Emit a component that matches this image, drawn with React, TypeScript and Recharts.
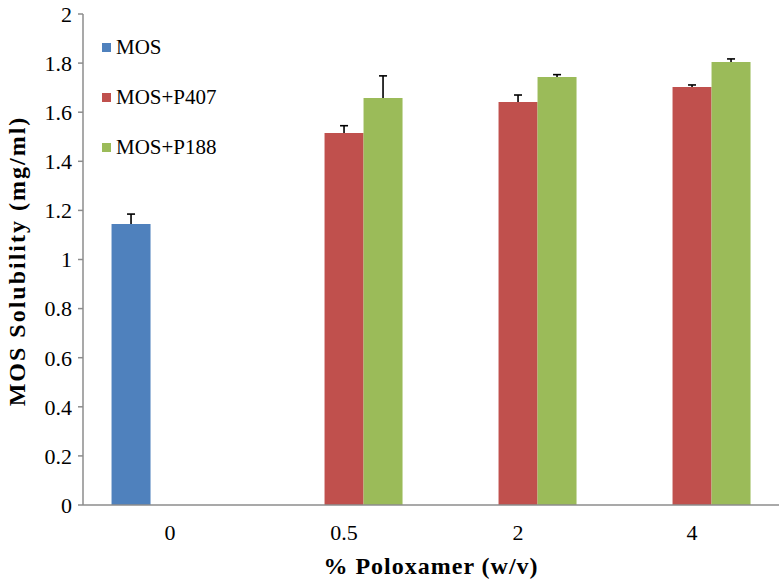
import { BarChart, Bar, XAxis, YAxis, LabelList, Label } from 'recharts'

const categories = ['0', '0.5', '2', '4']
const mos = [1.145, null, null, null]
const mosP407 = [null, 1.515, 1.642, 1.703]
const mosP188 = [null, 1.658, 1.743, 1.804]
const mosErr = [0.04, null, null, null]
const p407Err = [null, 0.03, 0.028, 0.008]
const p188Err = [null, 0.09, 0.01, 0.013]
const yTicks = [0, 0.2, 0.4, 0.6, 0.8, 1, 1.2, 1.4, 1.6, 1.8, 2]
const edgeTicks = [0, 1, 2, 3, 4]

const series = [
  { key: 'mos', name: 'MOS', color: '#4F81BD' },
  { key: 'p407', name: 'MOS+P407', color: '#C0504D' },
  { key: 'p188', name: 'MOS+P188', color: '#9BBB59' },
]

const data = categories.map((cat, i) => ({
  cat,
  mos: mos[i],
  p407: mosP407[i],
  p188: mosP188[i],
  mosErr: mosErr[i],
  p407Err: p407Err[i],
  p188Err: p188Err[i],
}))

const FONT = 'Liberation Serif'
const AXIS = '#8c8c8c'

// one-sided (upward) error bar, scaled from the bar's own pixel height
function ErrTick(props: any) {
  const { x, y, width, height, value } = props
  if (!Array.isArray(value) || value[1] == null || !height) return null
  const [v, e] = value
  const cx = x + width / 2
  const top = y - (e * height) / v
  return (
    <g stroke="#000" strokeWidth={1.6}>
      <line x1={cx} y1={y} x2={cx} y2={top} />
      <line x1={cx - 4} y1={top} x2={cx + 4} y2={top} />
    </g>
  )
}

function LegendBox() {
  return (
    <div style={{ position: 'absolute', left: 102, top: 22, fontSize: 21, color: '#000' }}>
      {series.map(s => (
        <div key={s.key} style={{ display: 'flex', alignItems: 'center', height: 50 }}>
          <span style={{ width: 9, height: 9, background: s.color, marginRight: 5, display: 'inline-block' }} />
          <span>{s.name}</span>
        </div>
      ))}
    </div>
  )
}

export default function App() {
  return (
    <div className="chart-root" style={{ position: 'absolute', left: 0, top: 0, width: 783, height: 582, background: '#fff' }}>
      <style>{`.chart-root, .chart-root * { font-family: 'Liberation Serif', serif !important; }`}</style>
      <BarChart
        width={783}
        height={582}
        data={data}
        margin={{ top: 14, right: 4, left: 0, bottom: 0 }}
        barCategoryGap="16.4%"
        barGap={0}
      >
        <XAxis
          xAxisId="a_edge"
          type="number"
          domain={[0, 4]}
          ticks={edgeTicks}
          tick={false}
          tickSize={6}
          height={1}
          axisLine={{ stroke: AXIS, strokeWidth: 1.5 }}
          tickLine={{ stroke: AXIS, strokeWidth: 1.5 }}
        />
        <XAxis
          xAxisId="b_cat"
          dataKey="cat"
          height={76}
          axisLine={false}
          tickLine={false}
          tickMargin={12}
          tick={{ fontFamily: FONT, fontSize: 22, fill: '#000' }}
        >
          <Label
            content={() => (
              <text x={431} y={574} textAnchor="middle" fontFamily={FONT} fontSize={24} fontWeight="bold" letterSpacing={1} fill="#000">
                % Poloxamer (w/v)
              </text>
            )}
          />
        </XAxis>
        <YAxis
          domain={[0, 2]}
          ticks={yTicks}
          width={83}
          tickSize={5}
          tickMargin={6}
          axisLine={{ stroke: AXIS, strokeWidth: 1.5 }}
          tickLine={{ stroke: AXIS, strokeWidth: 1.5 }}
          tick={{ fontFamily: FONT, fontSize: 22, fill: '#000' }}
        >
          <Label
            content={() => (
              <text
                x={25}
                y={261}
                transform="rotate(-90 25 261)"
                textAnchor="middle"
                fontFamily={FONT}
                fontSize={24}
                fontWeight="bold"
                letterSpacing={2}
                fill="#000"
              >
                MOS Solubility (mg/ml)
              </text>
            )}
          />
        </YAxis>
        {series.map(s => (
          <Bar key={s.key} xAxisId="b_cat" dataKey={s.key} name={s.name} fill={s.color} isAnimationActive={false}>
            <LabelList
              dataKey={(d: any) => (d[s.key] == null ? null : [d[s.key], d[s.key + 'Err']])}
              content={(p: any) => <ErrTick {...p} />}
            />
          </Bar>
        ))}
      </BarChart>
      <LegendBox />
    </div>
  )
}
